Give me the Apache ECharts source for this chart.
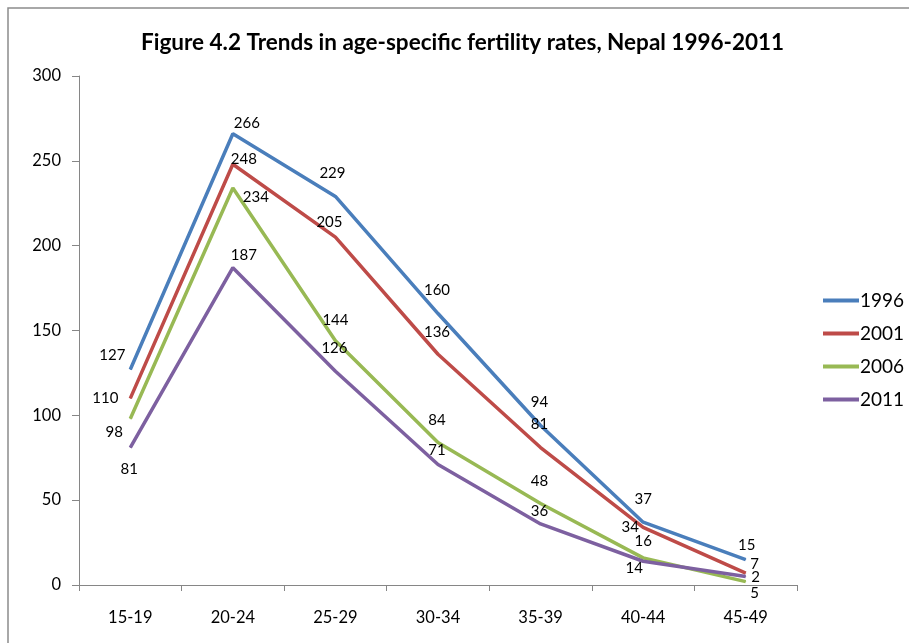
<!DOCTYPE html>
<html>
<head>
<meta charset="utf-8">
<script src="https://cdn.jsdelivr.net/npm/echarts@6/dist/echarts.min.js"></script>
<style>html,body{margin:0;padding:0;background:#fff}#c{width:909px;height:643px}</style>
</head>
<body>
<div id="c"></div>
<script>
const categories = ['15-19','20-24','25-29','30-34','35-39','40-44','45-49'];
const seriesNames = ['1996','2001','2006','2011'];
const values1996 = [127, 266, 229, 160, 94, 37, 15];
const values2001 = [110, 248, 205, 136, 81, 34, 7];
const values2006 = [98, 234, 144, 84, 48, 16, 2];
const values2011 = [81, 187, 126, 71, 36, 14, 5];
const yTicks = [0, 50, 100, 150, 200, 250, 300];

// label offsets (style only, relative to each point)
const labelOffsets = [
  [[-18,-14],[14,-11],[-3,-23],[-1,-23],[-1,-23],[0,-23],[1,-14]],
  [[-25,0],[11,-5],[-6,-15],[-1,-22],[-1,-23],[-13,0],[9,-9]],
  [[-16,13],[23,9],[0,-21],[-1,-22],[-1,-22],[0,-17],[10,-4]],
  [[-1,22],[11,-13],[-1,-23],[-1,-14],[-1,-13],[-9,7],[9,17]]
];
const colors = ['#4A7EBB','#BE4B48','#98B954','#7D60A0'];
const allValues = [values1996, values2001, values2006, values2011];
const font = 'Lato, "Open Sans", sans-serif';

const series = allValues.map((vals, si) => ({
  name: seriesNames[si],
  type: 'line',
  data: vals.map((v, i) => ({
    value: v,
    label: { offset: labelOffsets[si][i] }
  })),
  symbol: 'circle',
  symbolSize: 1,
  showSymbol: true,
  lineStyle: { width: 3.5, color: colors[si] },
  itemStyle: { color: colors[si] },
  label: {
    show: true,
    position: 'inside',
    color: '#000',
    fontSize: 15,
    fontFamily: font
  },
  emphasis: { disabled: true },
  animation: false
}));

const chart = echarts.init(document.getElementById('c'));
chart.setOption({
  animation: false,
  color: colors,
  title: {
    text: 'Figure 4.2 Trends in age-specific fertility rates, Nepal 1996-2011',
    left: 136,
    top: 26,
    textStyle: { fontSize: 22.5, fontWeight: 'bold', fontFamily: font, color: '#000' }
  },
  graphic: [{
    type: 'rect',
    shape: { x: 8, y: 8, width: 1200, height: 1200 },
    style: { fill: 'none', stroke: '#8c8c8c', lineWidth: 1.5 },
    silent: true
  }],
  legend: {
    orient: 'vertical',
    left: 818,
    top: 286,
    itemWidth: 36,
    itemHeight: 4,
    itemGap: 14,
    icon: 'rect',
    textStyle: { fontSize: 19, fontFamily: font, color: '#000', padding: [0,0,0,-4] },
    data: seriesNames
  },
  grid: { left: 79, right: 112, top: 76, bottom: 58 },
  xAxis: {
    type: 'category',
    data: categories,
    boundaryGap: true,
    axisLine: { lineStyle: { color: '#868686', width: 1 } },
    axisTick: { show: true, length: 6, lineStyle: { color: '#868686' } },
    axisLabel: { color: '#000', fontSize: 16.5, fontFamily: font, margin: 24 }
  },
  yAxis: {
    type: 'value',
    min: yTicks[0],
    max: yTicks[yTicks.length - 1],
    interval: 50,
    splitLine: { show: false },
    axisLine: { show: true, lineStyle: { color: '#868686', width: 1 } },
    axisTick: { show: true, length: 7, lineStyle: { color: '#868686' } },
    axisLabel: { color: '#000', fontSize: 16.5, fontFamily: font, margin: 18 }
  },
  series: series
});
</script>
</body>
</html>
